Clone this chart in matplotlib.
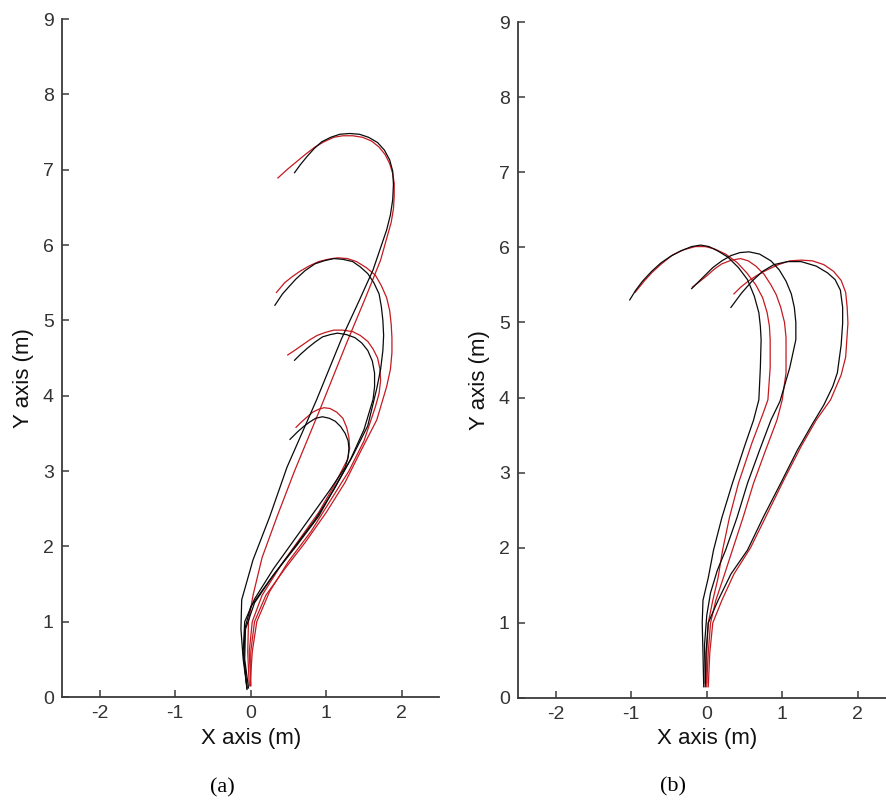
import matplotlib
matplotlib.use("Agg")
import matplotlib.pyplot as plt

# =========================================================
# Trajectory data (metres)
# =========================================================

# ---- panel (a): four runs, black = reference, red = tracked ----
a1_black_x = [-0.05, -0.10, -0.13, -0.12, 0.03, 0.25, 0.48, 0.87, 1.20, 1.44, 1.62, 1.80, 1.85, 1.88, 1.89, 1.88, 1.84, 1.77, 1.68, 1.56, 1.44, 1.31, 1.18, 1.06, 0.94, 0.84, 0.75, 0.66, 0.58]
a1_black_y = [0.12, 0.50, 0.90, 1.29, 1.82, 2.39, 3.05, 3.94, 4.75, 5.27, 5.67, 6.20, 6.40, 6.60, 6.80, 6.98, 7.13, 7.26, 7.36, 7.43, 7.47, 7.48, 7.47, 7.43, 7.37, 7.28, 7.18, 7.07, 6.96]
a1_red_x = [-0.02, -0.04, -0.03, 0.03, 0.15, 0.35, 0.58, 0.93, 1.27, 1.52, 1.72, 1.86, 1.89, 1.90, 1.90, 1.88, 1.84, 1.78, 1.70, 1.60, 1.48, 1.35, 1.22, 1.10, 0.97, 0.85, 0.72, 0.60, 0.48, 0.36]
a1_red_y = [0.15, 0.60, 1.00, 1.35, 1.85, 2.40, 3.00, 3.85, 4.70, 5.30, 5.80, 6.30, 6.48, 6.65, 6.82, 6.95, 7.08, 7.20, 7.30, 7.38, 7.43, 7.45, 7.45, 7.43, 7.37, 7.30, 7.20, 7.10, 7.00, 6.89]

a2_black_x = [-0.03, -0.08, -0.07, 0.05, 0.30, 0.60, 0.90, 1.15, 1.35, 1.55, 1.67, 1.72, 1.75, 1.76, 1.75, 1.73, 1.70, 1.63, 1.55, 1.45, 1.35, 1.22, 1.10, 0.97, 0.85, 0.72, 0.60, 0.50, 0.42, 0.32]
a2_black_y = [0.12, 0.50, 0.90, 1.25, 1.62, 2.00, 2.40, 2.85, 3.20, 3.60, 4.10, 4.35, 4.60, 4.80, 5.00, 5.18, 5.35, 5.50, 5.62, 5.71, 5.78, 5.81, 5.82, 5.79, 5.75, 5.66, 5.55, 5.44, 5.35, 5.20]
a2_red_x = [0.00, 0.00, 0.05, 0.20, 0.45, 0.72, 1.00, 1.25, 1.45, 1.67, 1.80, 1.85, 1.87, 1.87, 1.86, 1.84, 1.80, 1.73, 1.65, 1.53, 1.40, 1.28, 1.15, 1.02, 0.90, 0.77, 0.65, 0.55, 0.45, 0.34]
a2_red_y = [0.15, 0.60, 1.00, 1.35, 1.70, 2.05, 2.45, 2.85, 3.25, 3.68, 4.12, 4.35, 4.57, 4.77, 4.95, 5.13, 5.30, 5.46, 5.60, 5.70, 5.78, 5.82, 5.83, 5.81, 5.78, 5.72, 5.65, 5.58, 5.50, 5.37]

a3_black_x = [-0.05, -0.09, -0.08, 0.00, 0.25, 0.55, 0.85, 1.10, 1.32, 1.50, 1.62, 1.64, 1.64, 1.61, 1.55, 1.47, 1.38, 1.27, 1.15, 1.05, 0.95, 0.85, 0.75, 0.66, 0.58]
a3_black_y = [0.10, 0.50, 0.90, 1.20, 1.55, 1.95, 2.35, 2.75, 3.15, 3.55, 3.95, 4.12, 4.30, 4.46, 4.60, 4.70, 4.77, 4.81, 4.83, 4.81, 4.78, 4.71, 4.63, 4.55, 4.47]
a3_red_x = [-0.01, 0.02, 0.08, 0.25, 0.50, 0.80, 1.05, 1.30, 1.50, 1.65, 1.70, 1.72, 1.71, 1.68, 1.62, 1.55, 1.45, 1.35, 1.22, 1.10, 0.99, 0.88, 0.78, 0.68, 0.58, 0.49]
a3_red_y = [0.15, 0.60, 1.00, 1.40, 1.80, 2.20, 2.60, 3.00, 3.40, 3.85, 4.03, 4.20, 4.36, 4.50, 4.62, 4.72, 4.80, 4.85, 4.87, 4.87, 4.84, 4.80, 4.74, 4.67, 4.60, 4.54]

a4_black_x = [-0.05, -0.10, -0.08, 0.05, 0.30, 0.55, 0.80, 1.05, 1.25, 1.29, 1.30, 1.29, 1.25, 1.19, 1.12, 1.04, 0.95, 0.86, 0.78, 0.70, 0.62, 0.52]
a4_black_y = [0.12, 0.60, 1.00, 1.30, 1.70, 2.05, 2.40, 2.75, 3.05, 3.18, 3.30, 3.40, 3.50, 3.59, 3.66, 3.70, 3.72, 3.70, 3.65, 3.59, 3.52, 3.42]
a4_red_x = [0.00, -0.02, 0.02, 0.15, 0.40, 0.65, 0.90, 1.10, 1.28, 1.31, 1.30, 1.27, 1.22, 1.14, 1.05, 0.97, 0.90, 0.82, 0.75, 0.67, 0.60]
a4_red_y = [0.15, 0.60, 1.00, 1.35, 1.75, 2.10, 2.45, 2.80, 3.15, 3.30, 3.45, 3.58, 3.70, 3.78, 3.83, 3.84, 3.82, 3.78, 3.72, 3.65, 3.58]

# ---- panel (b): three runs ----
b1_black_x = [-0.04, -0.05, -0.06, -0.05, 0.02, 0.09, 0.20, 0.34, 0.50, 0.62, 0.69, 0.71, 0.72, 0.71, 0.69, 0.63, 0.54, 0.42, 0.28, 0.15, 0.03, -0.08, -0.20, -0.35, -0.48, -0.61, -0.73, -0.85, -0.94, -1.02]
b1_black_y = [0.15, 0.60, 1.00, 1.30, 1.60, 1.97, 2.40, 2.86, 3.35, 3.70, 3.97, 4.40, 4.77, 4.95, 5.13, 5.35, 5.57, 5.73, 5.87, 5.95, 6.01, 6.03, 6.01, 5.95, 5.88, 5.79, 5.68, 5.55, 5.43, 5.30]
b1_red_x = [0.00, 0.00, 0.02, 0.08, 0.15, 0.21, 0.30, 0.42, 0.60, 0.75, 0.81, 0.84, 0.84, 0.83, 0.80, 0.74, 0.65, 0.53, 0.40, 0.25, 0.10, -0.02, -0.15, -0.30, -0.45, -0.60, -0.72, -0.82, -0.95]
b1_red_y = [0.15, 0.60, 1.00, 1.30, 1.60, 1.97, 2.40, 2.86, 3.40, 3.80, 3.97, 4.40, 4.77, 4.95, 5.13, 5.33, 5.50, 5.66, 5.80, 5.91, 5.98, 6.01, 6.01, 5.97, 5.90, 5.78, 5.67, 5.56, 5.40]

b2_black_x = [-0.02, -0.03, 0.00, 0.05, 0.14, 0.25, 0.40, 0.54, 0.70, 0.85, 0.97, 1.10, 1.18, 1.18, 1.16, 1.12, 1.05, 0.96, 0.85, 0.70, 0.56, 0.44, 0.32, 0.20, 0.08, -0.05, -0.20]
b2_black_y = [0.20, 0.70, 1.10, 1.40, 1.70, 1.97, 2.40, 2.86, 3.30, 3.70, 3.95, 4.40, 4.77, 5.00, 5.20, 5.38, 5.55, 5.70, 5.82, 5.91, 5.94, 5.93, 5.89, 5.82, 5.73, 5.60, 5.45]
b2_red_x = [0.00, 0.02, 0.05, 0.12, 0.22, 0.34, 0.48, 0.62, 0.78, 0.93, 1.00, 1.05, 1.05, 1.03, 0.98, 0.92, 0.85, 0.76, 0.65, 0.55, 0.45, 0.33, 0.20, 0.10, 0.00, -0.10, -0.19]
b2_red_y = [0.20, 0.60, 1.00, 1.30, 1.60, 1.97, 2.40, 2.86, 3.30, 3.70, 3.97, 4.33, 4.80, 5.00, 5.20, 5.37, 5.50, 5.64, 5.75, 5.82, 5.85, 5.83, 5.78, 5.71, 5.62, 5.54, 5.47]

b3_black_x = [-0.02, -0.01, 0.02, 0.15, 0.32, 0.54, 0.75, 0.98, 1.20, 1.40, 1.55, 1.67, 1.73, 1.78, 1.80, 1.80, 1.77, 1.70, 1.60, 1.45, 1.25, 1.07, 0.89, 0.74, 0.60, 0.46, 0.32]
b3_black_y = [0.15, 0.60, 1.00, 1.30, 1.65, 1.97, 2.41, 2.86, 3.30, 3.65, 3.90, 4.15, 4.33, 4.70, 4.99, 5.20, 5.43, 5.57, 5.66, 5.75, 5.81, 5.81, 5.77, 5.68, 5.55, 5.39, 5.20]
b3_red_x = [0.02, 0.04, 0.08, 0.20, 0.36, 0.58, 0.80, 1.02, 1.25, 1.45, 1.64, 1.78, 1.84, 1.87, 1.86, 1.84, 1.78, 1.68, 1.55, 1.40, 1.25, 1.10, 0.95, 0.80, 0.67, 0.55, 0.45, 0.36]
b3_red_y = [0.15, 0.60, 1.00, 1.30, 1.65, 2.00, 2.45, 2.90, 3.35, 3.70, 3.97, 4.30, 4.54, 4.99, 5.20, 5.40, 5.56, 5.68, 5.77, 5.82, 5.83, 5.82, 5.77, 5.70, 5.63, 5.55, 5.47, 5.38]

X_TICKS = [-2, -1, 0, 1, 2]
Y_TICKS = [0, 1, 2, 3, 4, 5, 6, 7, 8, 9]

RED = "#c41a20"
BLACK = "#0a0a0a"
AXIS_GREY = "#3a3a3a"

plt.rcParams["font.family"] = ["Liberation Sans", "DejaVu Sans"]
plt.rcParams["axes.unicode_minus"] = False


# =========================================================
# axis style (MATLAB-like, box off, ticks inside)
# =========================================================
def style_axes(ax):
    ax.set_xlim(-2.5, 2.5)
    ax.set_ylim(0, 9)
    ax.set_xticks(X_TICKS)
    ax.set_yticks(Y_TICKS)
    for side in ["top", "right"]:
        ax.spines[side].set_visible(False)
    for side in ["left", "bottom"]:
        ax.spines[side].set_color(AXIS_GREY)
        ax.spines[side].set_linewidth(1.3)
    ax.tick_params(direction="in", length=5, width=1.1, color=AXIS_GREY,
                   labelsize=14, labelcolor="#333333", pad=6)
    ax.set_xlabel("X axis (m)", fontsize=16, color="#111111")
    ax.set_ylabel("Y axis (m)", fontsize=16, color="#111111")
    ax.xaxis.set_label_coords(0.5, -0.045)
    ax.yaxis.set_label_coords(-0.075, 0.47)


def draw_pairs(ax, pairs):
    # red first, black on top
    for bx, by, rx, ry in pairs:
        ax.plot(rx, ry, color=RED, linewidth=0.9)
    for bx, by, rx, ry in pairs:
        ax.plot(bx, by, color=BLACK, linewidth=0.9)


def main():
    fig = plt.figure(figsize=(8.87, 8.02), dpi=100)

    ax_a = fig.add_axes([62 / 887, 105 / 802, 377.5 / 887, 678 / 802])
    ax_b = fig.add_axes([518 / 887, 104 / 802, 377.5 / 887, 676 / 802])

    draw_pairs(ax_a, [
        (a1_black_x, a1_black_y, a1_red_x, a1_red_y),
        (a2_black_x, a2_black_y, a2_red_x, a2_red_y),
        (a3_black_x, a3_black_y, a3_red_x, a3_red_y),
        (a4_black_x, a4_black_y, a4_red_x, a4_red_y),
    ])
    draw_pairs(ax_b, [
        (b1_black_x, b1_black_y, b1_red_x, b1_red_y),
        (b2_black_x, b2_black_y, b2_red_x, b2_red_y),
        (b3_black_x, b3_black_y, b3_red_x, b3_red_y),
    ])

    style_axes(ax_a)
    style_axes(ax_b)

    fig.text(222 / 887, 1 - 788 / 802, "(a)", ha="center", va="center",
             fontsize=16, family="Liberation Serif")
    fig.text(673 / 887, 1 - 787 / 802, "(b)", ha="center", va="center",
             fontsize=16, family="Liberation Serif")

    fig.savefig("out.png", dpi=100)
    plt.close(fig)


if __name__ == "__main__":
    main()
